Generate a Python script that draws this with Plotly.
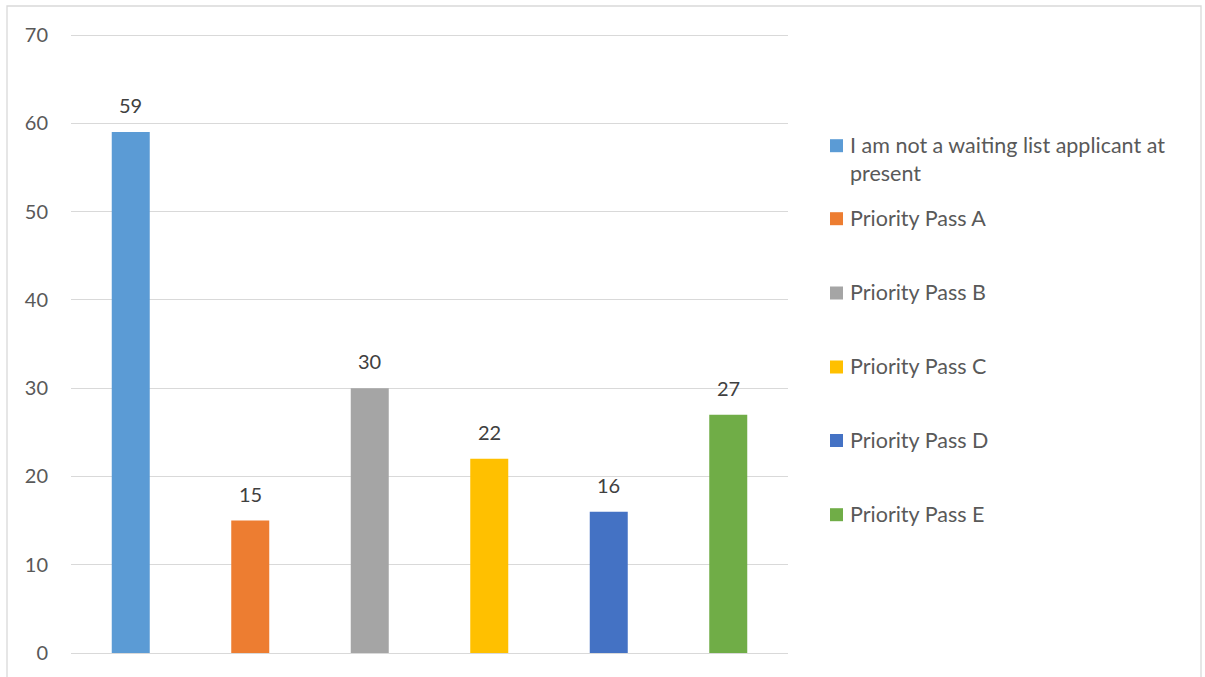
import plotly.graph_objects as go

categories = ["I am not a waiting list applicant at present", "Priority Pass A", "Priority Pass B",
              "Priority Pass C", "Priority Pass D", "Priority Pass E"]
legend_names = ["I am not a waiting list applicant at<br>present", "Priority Pass A", "Priority Pass B",
                "Priority Pass C", "Priority Pass D", "Priority Pass E"]
values = [59, 15, 30, 22, 16, 27]
colors = ["#5B9BD5", "#ED7D31", "#A5A5A5", "#FFC000", "#4472C4", "#70AD47"]
y_ticks = [0, 10, 20, 30, 40, 50, 60, 70]

FONT = "Lato"
W, H = 1205, 677
# pixel layout of the plot area (value 0 at y=653, value 70 at y=35)
L, R = 71, 788
Y0PX, Y70PX = 653, 35
T, B = 33, 655
pw, ph = R - L, B - T
upp = (y_ticks[-1] - y_ticks[0]) / (Y0PX - Y70PX)
yr = [y_ticks[0] - (B - Y0PX) * upp, y_ticks[-1] + (Y70PX - T) * upp]


def px(xp):
    return (xp - L) / pw


def py(yp):
    return (B - yp) / ph


fig = go.Figure()
for i, (name, v, c) in enumerate(zip(categories, values, colors)):
    fig.add_trace(go.Bar(
        x=[i], y=[v], name=name, marker=dict(color=c, line=dict(width=0)),
        width=0.318, showlegend=False, hoverinfo="y",
    ))
    fig.add_annotation(x=i, y=v, text=str(v), showarrow=False, yanchor="bottom",
                       yshift=13, font=dict(family=FONT, size=20, color="#404040"))

# legend drawn as markers + text on the right
legend_centers = [145.7, 218.7, 293, 367, 440.5, 514.7]
LINE_H = 28
for name, c, yc in zip(legend_names, colors, legend_centers):
    fig.add_shape(type="rect", xref="paper", yref="paper",
                  x0=px(830), x1=px(843), y0=py(yc + 6.5), y1=py(yc - 6.5),
                  fillcolor=c, line=dict(width=0))
    fig.add_annotation(xref="paper", yref="paper", x=px(848), y=py(yc - 2 - LINE_H / 2),
                       text=name, showarrow=False, xanchor="left", yanchor="top", align="left",
                       font=dict(family=FONT, size=21.5, color="#595959"))

fig.add_shape(type="rect", xref="paper", yref="paper",
              x0=px(7), x1=px(1201), y0=py(700), y1=py(6),
              line=dict(color="#D9D9D9", width=1.3), layer="below")

fig.update_layout(
    width=W, height=H,
    margin=dict(l=L, r=W - R, t=T, b=H - B, pad=0),
    paper_bgcolor="white", plot_bgcolor="white",
    barmode="overlay",
    showlegend=False,
    xaxis=dict(range=[-0.5, 5.5], showticklabels=False, showgrid=False, zeroline=False,
               showline=False, ticks="", fixedrange=True),
    yaxis=dict(range=yr, tickvals=y_ticks, showgrid=True, gridcolor="#D9D9D9", gridwidth=1.3,
               zeroline=False, showline=False, ticks="", ticklabelstandoff=22,
               tickfont=dict(family=FONT, size=20, color="#595959")),
    font=dict(family=FONT),
)

fig.write_html("out.html", config={"displayModeBar": False},
               post_script="document.body.style.margin='0px';")
